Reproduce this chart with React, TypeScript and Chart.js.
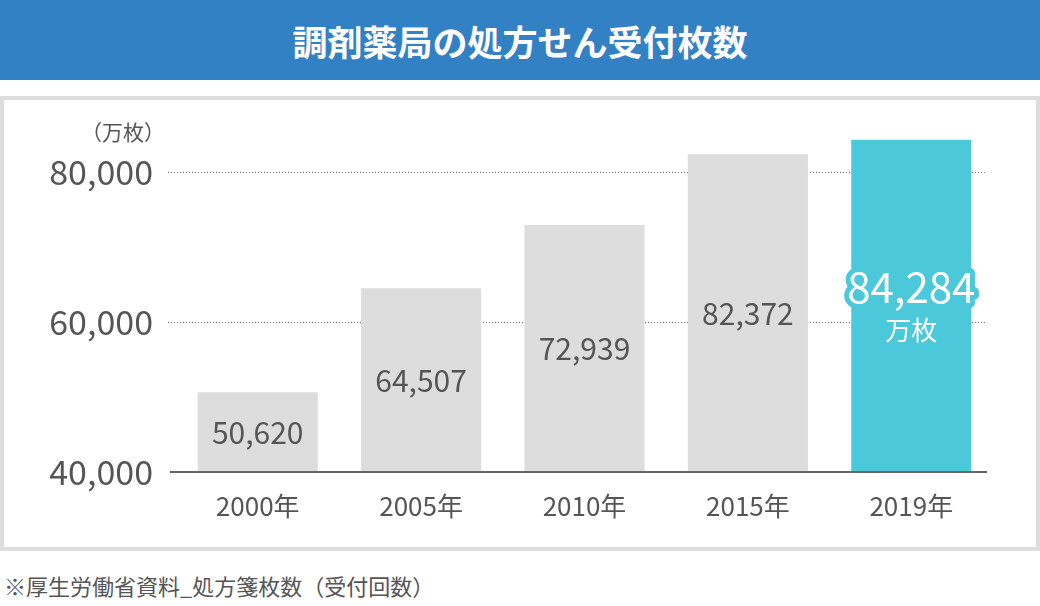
import { useEffect, useRef } from "react";
import { Chart, registerables } from "chart.js";

Chart.register(...registerables);

const FONT = "'Noto Sans CJK JP', 'Noto Sans', sans-serif";

// data
const years = ["2000年", "2005年", "2010年", "2015年", "2019年"];
const counts = [50620, 64507, 72939, 82372, 84284];
const yTicks = [40000, 60000, 80000];
const barColors = ["#dddddd", "#dddddd", "#dddddd", "#dddddd", "#4bc9da"];
const unitLabel = "万枚";

// dotted grid + solid base line, a little wider to the left than the bars' area
const gridLines = {
  id: "gridLines",
  beforeDatasetsDraw(chart: Chart) {
    const { ctx, chartArea } = chart;
    const y = chart.scales.y;
    ctx.save();
    ctx.strokeStyle = "#777777";
    ctx.lineWidth = 1;
    ctx.setLineDash([1, 2]);
    yTicks.slice(1).forEach((v) => {
      const py = Math.round(y.getPixelForValue(v)) + 0.5;
      ctx.beginPath();
      ctx.moveTo(chartArea.left - 8, py);
      ctx.lineTo(chartArea.right - 6, py);
      ctx.stroke();
    });
    ctx.restore();
  },
  afterDatasetsDraw(chart: Chart) {
    const { ctx, chartArea } = chart;
    const y = chart.scales.y;
    const py = y.getPixelForValue(y.min);
    ctx.save();
    ctx.strokeStyle = "#666666";
    ctx.lineWidth = 2;
    ctx.beginPath();
    ctx.moveTo(chartArea.left - 6, py);
    ctx.lineTo(chartArea.right - 6, py);
    ctx.stroke();
    ctx.restore();
  },
};

const valueLabels = {
  id: "valueLabels",
  afterDatasetsDraw(chart: Chart) {
    const { ctx } = chart;
    const meta = chart.getDatasetMeta(0);
    const yScale = chart.scales.y;
    const bottom = yScale.getPixelForValue(yScale.min);
    const last = meta.data.length - 1;
    ctx.save();
    ctx.textAlign = "center";
    ctx.textBaseline = "middle";
    meta.data.forEach((bar: any, i: number) => {
      const text = counts[i].toLocaleString("en-US");
      const cy = (bar.y + bottom) / 2;
      if (i === last) {
        ctx.font = `400 42px ${FONT}`;
        ctx.lineJoin = "round";
        ctx.lineWidth = 10;
        ctx.strokeStyle = barColors[i];
        ctx.strokeText(text, bar.x, cy - 19);
        ctx.fillStyle = "#ffffff";
        ctx.fillText(text, bar.x, cy - 19);
        ctx.font = `400 26px ${FONT}`;
        ctx.fillText(unitLabel, bar.x, cy + 24);
      } else {
        ctx.font = `400 30px ${FONT}`;
        ctx.fillStyle = "#555555";
        ctx.fillText(text, bar.x, cy);
      }
    });
    ctx.restore();
  },
};

const unitTitle = {
  id: "unitTitle",
  afterDraw(chart: Chart) {
    const { ctx } = chart;
    const y = chart.scales.y;
    ctx.save();
    ctx.font = `400 21px ${FONT}`;
    ctx.fillStyle = "#555555";
    ctx.textAlign = "right";
    ctx.textBaseline = "middle";
    ctx.fillText("（" + unitLabel + "）", y.right - 11, y.getPixelForValue(80000) - 40);
    ctx.restore();
  },
};

export default function App() {
  const canvasRef = useRef<HTMLCanvasElement>(null);
  const chartRef = useRef<Chart | null>(null);

  useEffect(() => {
    document.body.style.margin = "0";
    if (!canvasRef.current) return;

    chartRef.current?.destroy();
    chartRef.current = new Chart(canvasRef.current, {
      type: "bar",
      data: {
        labels: years,
        datasets: [
          {
            data: counts,
            backgroundColor: barColors,
            barPercentage: 0.735,
            categoryPercentage: 1,
          },
        ],
      },
      options: {
        responsive: true,
        maintainAspectRatio: false,
        animation: false,
        layout: { padding: { top: 36, right: 43, left: 0, bottom: 0 } },
        plugins: {
          legend: { display: false },
          tooltip: { enabled: false },
        },
        scales: {
          x: {
            grid: { display: false, drawTicks: false },
            border: { display: false },
            ticks: { color: "#555555", font: { family: FONT, size: 26 }, padding: 19 },
            afterFit: (s: any) => {
              s.height = 75;
              s.paddingLeft = 0;
              s.paddingRight = 0;
            },
          },
          y: {
            min: 40000,
            max: 84800,
            afterBuildTicks: (s: any) => {
              s.ticks = yTicks.map((v) => ({ value: v }));
            },
            grid: { display: false, drawTicks: false },
            border: { display: false },
            ticks: {
              color: "#555555",
              font: { family: FONT, size: 34 },
              padding: 23,
              callback: (v: any) => Number(v).toLocaleString("en-US"),
            },
            afterFit: (s: any) => {
              s.width = 172;
              s.paddingTop = 0;
              s.paddingBottom = 0;
            },
          },
        },
      },
      plugins: [gridLines, valueLabels, unitTitle],
    });

    return () => {
      chartRef.current?.destroy();
    };
  }, []);

  return (
    <div style={{ position: "relative", width: 1040, height: 606, background: "#fff", fontFamily: FONT }}>
      <div
        style={{
          position: "absolute",
          left: 0,
          top: 0,
          width: 1040,
          height: 80,
          background: "#3381c5",
          color: "#fff",
          fontSize: 35,
          fontWeight: 700,
          display: "flex",
          alignItems: "center",
          justifyContent: "center",
        }}
      >
        調剤薬局の処方せん受付枚数
      </div>
      <div
        style={{
          position: "absolute",
          left: 0,
          top: 96,
          width: 1040,
          height: 455,
          border: "4px solid #dddddd",
          boxSizing: "border-box",
        }}
      >
        <div style={{ position: "relative", width: 1032, height: 447 }}>
          <canvas ref={canvasRef} />
        </div>
      </div>
      <div
        style={{
          position: "absolute",
          left: 4,
          top: 570,
          fontSize: 22,
          lineHeight: "30px",
          color: "#555555",
        }}
      >
        ※厚生労働省資料_処方箋枚数（受付回数）
      </div>
    </div>
  );
}
